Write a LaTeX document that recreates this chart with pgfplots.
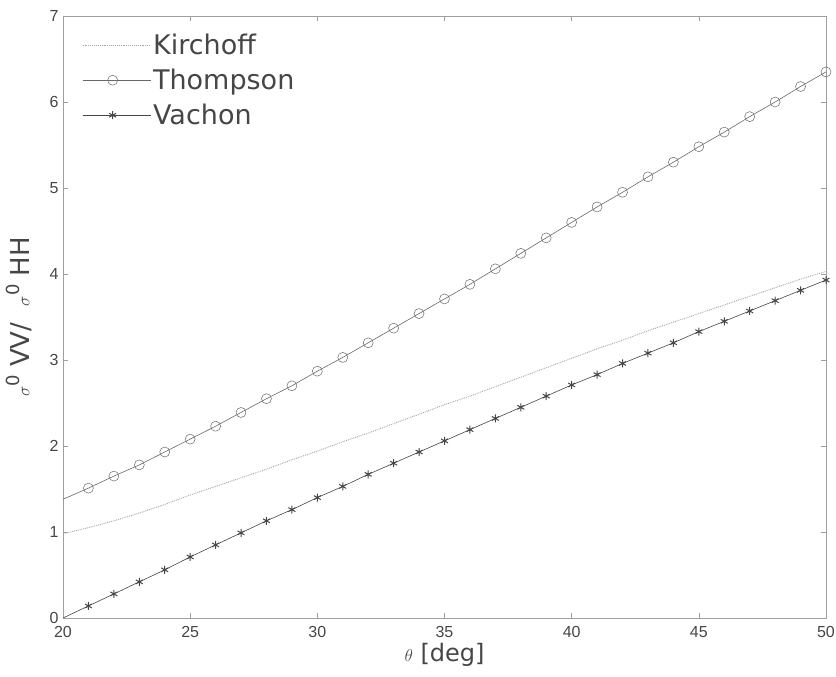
\documentclass[border=0pt]{standalone}
\usepackage{fontspec}
\setmainfont{DejaVu Sans}
\newfontfamily\tickfont{Liberation Sans}
\usepackage{pgfplots}
\pgfplotsset{compat=1.18}
\definecolor{kirc}{RGB}{175,160,168}
\definecolor{thom}{RGB}{105,105,105}
\definecolor{vach}{RGB}{70,70,70}
\definecolor{txt}{RGB}{70,70,70}
\begin{document}
\begin{tikzpicture}
\useasboundingbox (-63pt,-59pt) rectangle (773pt,618pt);
\begin{axis}[
  at={(0,0)}, anchor=south west, scale only axis,
  width=763pt, height=602pt,
  xmin=20, xmax=50, ymin=0, ymax=7,
  xtick={20,25,...,50}, ytick={0,1,...,7},
  tick align=inside, major tick length=5pt,
  axis line style={gray!75}, tick style={gray!75, line width=0.5pt},
  /pgf/number format/assume math mode=true,
  ticklabel style={font=\fontsize{16}{16}\selectfont\tickfont, text=txt},
  xticklabel style={yshift=-5pt},
  yticklabel style={xshift=-1pt},
  every axis x label/.style={at={(axis description cs:0.5,0)}, anchor=center, yshift=-37pt},
  every axis y label/.style={at={(axis description cs:0,0.5)}, anchor=center, rotate=90, yshift=44pt},
  label style={text=txt},
  xlabel={\fontsize{24}{24}\selectfont{\fontsize{17}{17}\selectfont$\theta$} [deg]},
  ylabel={\fontsize{26}{26}\selectfont{\fontsize{18}{18}\selectfont$\sigma$\raisebox{0.55em}{0}} VV/\ \ {\fontsize{18}{18}\selectfont$\sigma$\raisebox{0.55em}{0}} HH},
  legend style={draw=none, fill=none, at={(axis description cs:0,1)}, anchor=north west,
    xshift=17pt, yshift=-14pt, font=\fontsize{27}{30}\selectfont, text=txt,
    row sep=9pt, inner sep=2pt},
  legend cell align=left,
  legend image code/.code={\path (0pt,0pt) -- (68pt,0pt);\draw[mark repeat=2, mark phase=2, #1] plot coordinates {(0pt,0pt) (30pt,0pt) (60pt,0pt)};},
]
\addplot[kirc, densely dotted, line width=0.9pt, mark=none] coordinates {
(20,0.98) (21,1.05) (22,1.13) (23,1.22) (24,1.32) (25,1.43) (26,1.53) (27,1.63) (28,1.73) (29,1.84)
(30,1.94) (31,2.05) (32,2.15) (33,2.26) (34,2.37) (35,2.48) (36,2.58) (37,2.69) (38,2.80) (39,2.91)
(40,3.02) (41,3.13) (42,3.23) (43,3.34) (44,3.44) (45,3.54) (46,3.64) (47,3.74) (48,3.84) (49,3.94) (50,4.03)};
\addlegendentry{Kirchoff}
\addplot[thom, line width=0.6pt, mark=o, mark size=5pt, mark phase=2, mark repeat=1, mark options={line width=0.5pt, fill=none}] coordinates {
(20,1.38) (21,1.51) (22,1.65) (23,1.78) (24,1.93) (25,2.08) (26,2.23) (27,2.39) (28,2.55) (29,2.70)
(30,2.87) (31,3.03) (32,3.20) (33,3.37) (34,3.54) (35,3.71) (36,3.88) (37,4.06) (38,4.24) (39,4.42)
(40,4.60) (41,4.78) (42,4.95) (43,5.13) (44,5.30) (45,5.48) (46,5.65) (47,5.83) (48,6.00) (49,6.18) (50,6.35)};
\addlegendentry{Thompson}
\addplot[vach, line width=0.6pt, mark=asterisk, mark size=4pt, mark phase=2, mark repeat=1, mark options={line width=1pt}] coordinates {
(20,0.00) (21,0.14) (22,0.28) (23,0.42) (24,0.56) (25,0.71) (26,0.85) (27,0.99) (28,1.13) (29,1.26)
(30,1.40) (31,1.53) (32,1.67) (33,1.80) (34,1.93) (35,2.06) (36,2.19) (37,2.32) (38,2.45) (39,2.58)
(40,2.71) (41,2.83) (42,2.96) (43,3.08) (44,3.20) (45,3.33) (46,3.45) (47,3.57) (48,3.69) (49,3.81) (50,3.93)};
\addlegendentry{Vachon}
\end{axis}
\end{tikzpicture}
\end{document}
